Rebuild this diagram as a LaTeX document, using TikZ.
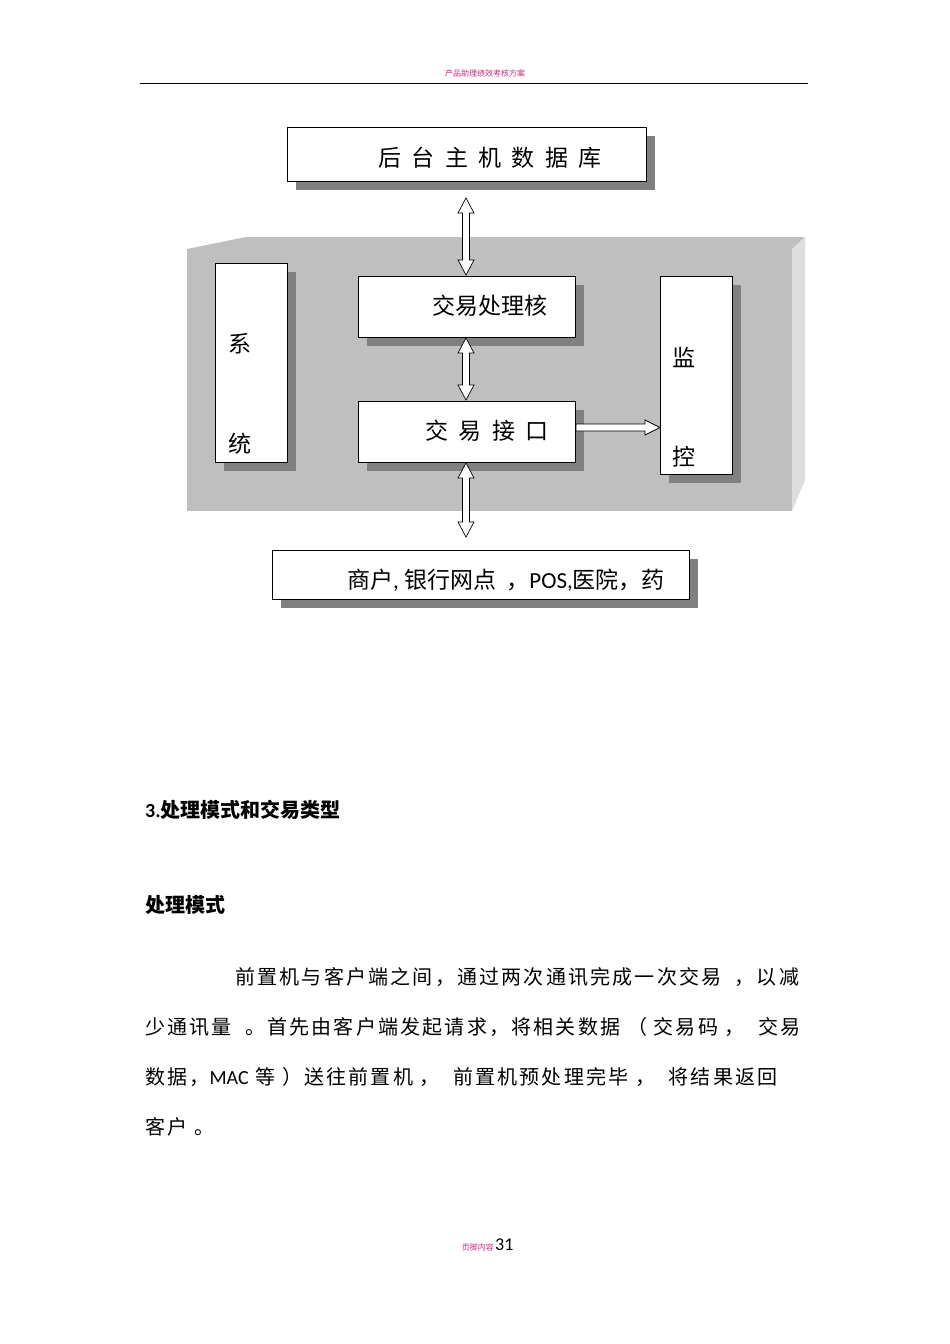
\documentclass[tikz,border=0pt]{standalone}
\usepackage{fontspec}
\setmainfont{Carlito}
\newfontfamily\cjk{Noto Sans CJK SC}
\newfontfamily\cjkp[LetterSpace=11]{Noto Sans CJK SC}
\begin{document}
\begin{tikzpicture}[x=1pt,y=-1pt,
  box/.style={draw=black,fill=white,line width=0.8pt},
  shad/.style={fill=black!50},
  arr/.style={draw=black,fill=white,line width=0.7pt},
  lbl/.style={font=\cjk\fontsize{23}{26}\selectfont,inner sep=0pt},
  para/.style={font=\cjkp\fontsize{20}{24}\selectfont,anchor=west,inner sep=0pt}]
\useasboundingbox[fill=white] (0,0) rectangle (950,1344);
% header
\node[font=\cjk\fontsize{8}{9}\selectfont,text=magenta!80!black] (hd) at (485,73) {产品助理绩效考核方案};
\draw[line width=0.8pt] (140,83) -- (808,83);
% platform
\fill[black!25] (187,249) -- (246,237) -- (805,237) -- (792,249) -- cycle;
\fill[black!13] (792,249) -- (805,237) -- (805,480) -- (792,511) -- cycle;
\fill[black!25] (187,249) rectangle (792,511);
% shadows
\fill[shad] (296,136) rectangle (655,190);
\fill[shad] (224,272) rectangle (296,471);
\fill[shad] (367,285) rectangle (584,346);
\fill[shad] (367,410) rectangle (584,471);
\fill[shad] (669,285) rectangle (741,483);
\fill[shad] (281,559) rectangle (698,608);
% boxes
\draw[box] (287,127) rectangle (646,181);
\node[lbl] (db) at (490,158) {后\ \ 台\ \ 主\ \ 机\ \ 数\ \ 据\ \ 库};
\draw[box] (215,263) rectangle (287,462);
\node[lbl] (x1) at (240,344) {系};
\node[lbl] (x2) at (240,444) {统};
\draw[box] (358,276) rectangle (575,337);
\node[lbl] (core) at (490,306) {交易处理核};
\draw[box] (358,401) rectangle (575,462);
\node[lbl] (ifc) at (487,431) {交\ \ 易\ \ 接\ \ 口};
\draw[box] (660,276) rectangle (732,474);
\node[lbl] (m1) at (684,357) {监};
\node[lbl] (m2) at (684,457) {控};
\draw[box] (272,550) rectangle (689,599);
\node[lbl] (cl) at (506,580) {商户{\fontspec{Carlito}, }银行网点\ \ ，{\fontspec{Carlito}POS,}医院，药};
% arrows (hollow block arrows)
\foreach \ya/\yb in {198/275, 338/400, 463/537}{
  \draw[arr] (466,\ya) -- (474,\ya+15) -- (469.5,\ya+15) -- (469.5,\yb-15) -- (474,\yb-15)
    -- (466,\yb) -- (458,\yb-15) -- (462.5,\yb-15) -- (462.5,\ya+15) -- (458,\ya+15) -- cycle;
}
\draw[arr] (576,424) -- (645,424) -- (645,420) -- (660,427.5) -- (645,435) -- (645,431) -- (576,431) -- cycle;
% text
\node[para,font=\cjk\bfseries\fontsize{20}{24}\selectfont] (h1) at (145,810) {{\fontspec{Carlito}\bfseries 3.}处理模式和交易类型};
\node[para,font=\cjk\bfseries\fontsize{20}{24}\selectfont] (h2) at (145,905) {处理模式};
\node[para] (p1) at (235,977) {前置机与客户端之间，通过两次通讯完成一次交易\ \ ，以减};
\node[para] (p2) at (145,1027) {少通讯量\ \ 。首先由客户端发起请求，将相关数据\ （\ 交易码\ ，\ \ 交易};
\node[para] (p3) at (145,1077) {数据，{\fontspec{Carlito}MAC} 等\ ）送往前置机\ ，\ \ 前置机预处理完毕\ ，\ \ 将结果返回};
\node[para] (p4) at (145,1127) {客户\ 。};
\node[font=\cjk\fontsize{8}{9}\selectfont,text=magenta!80!black,anchor=east,inner sep=0pt] (ft) at (494,1247) {页脚内容};
\node[font=\fontsize{18}{20}\selectfont,anchor=west,inner sep=1pt] (pg) at (494,1245) {31};
\end{tikzpicture}
\end{document}
